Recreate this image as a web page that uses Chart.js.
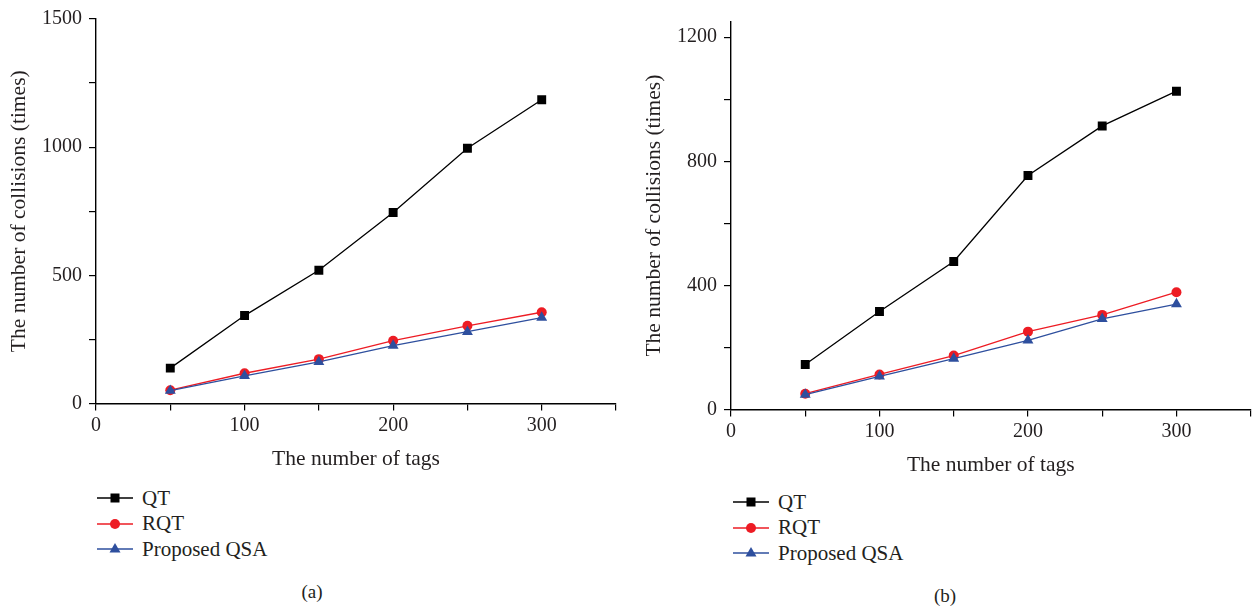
<!DOCTYPE html>
<html>
<head>
<meta charset="utf-8">
<script src="https://cdn.jsdelivr.net/npm/chart.js@4.4.1/dist/chart.umd.min.js"></script>
<style>
  body { margin: 0; background: #fff; width: 1257px; height: 610px; position: relative; overflow: hidden;
         font-family: "Liberation Serif", "DejaVu Serif", serif; color: #231f20; }
  canvas { position: absolute; }
  .legend { position: absolute; font-size: 21px; }
  .row { position: absolute; left: 0; height: 26px; display: flex; align-items: center; white-space: nowrap; }
  .row svg { margin-right: 9px; }
  .caption { position: absolute; font-size: 19px; transform: translateX(-50%); }
</style>
</head>
<body>
<canvas id="chartA" width="628" height="480" style="left:0;top:0"></canvas>
<canvas id="chartB" width="622" height="486" style="left:635px;top:0"></canvas>
<div class="legend" id="legendA" style="left:97px;top:485px"></div>
<div class="legend" id="legendB" style="left:733px;top:489px"></div>
<div class="caption" style="left:312px;top:581px">(a)</div>
<div class="caption" style="left:945px;top:585px">(b)</div>
<script>
  const tags = [50, 100, 150, 200, 250, 300];
  const seriesNames = ['QT', 'RQT', 'Proposed QSA'];
  const seriesColors = ['#000000', '#ed1c24', '#2e4f9e'];
  const seriesPoints = ['rect', 'circle', 'triangle'];

  const qtA = [138, 343, 520, 745, 996, 1185];
  const rqtA = [52, 118, 173, 245, 303, 356];
  const qsaA = [50, 108, 162, 226, 280, 335];

  const qtB = [145, 316, 477, 754, 914, 1026];
  const rqtB = [51, 113, 174, 251, 305, 378];
  const qsaB = [48, 107, 164, 223, 292, 340];

  // tick positions (labels only on the labelled subset)
  const xTicks = [0, 50, 100, 150, 200, 250, 300, 350];
  const xTickLabels = [0, 100, 200, 300];
  const yTicksA = [0, 250, 500, 750, 1000, 1250, 1500];
  const yTickLabelsA = [0, 500, 1000, 1500];
  const yTicksB = [0, 200, 400, 600, 800, 1000, 1200];
  const yTickLabelsB = [0, 400, 800, 1200];

  const xLabel = 'The number of tags';
  const yLabel = 'The number of collisions (times)';
  const FONT = '"Liberation Serif", "DejaVu Serif", serif';
  const radii = [6.3, 5, 6.3];

  function makeDatasets(lists) {
    return lists.map((vals, i) => ({
      label: seriesNames[i],
      data: tags.map((t, k) => ({ x: t, y: vals[k] })),
      borderColor: seriesColors[i],
      backgroundColor: seriesColors[i],
      borderWidth: 1.3,
      pointStyle: seriesPoints[i],
      pointRadius: radii[i],
      pointBorderWidth: 0,
      order: 2 - i
    }));
  }

  function axisCommon() {
    return {
      border: { display: true, color: '#000', width: 1.4 },
      grid: { drawOnChartArea: false, drawTicks: true, tickLength: 7, color: '#000', lineWidth: 1.2 }
    };
  }

  function makeChart(id, lists, yTop, yTicks, yTickLabels, padTop, padRight) {
    return new Chart(document.getElementById(id), {
      type: 'line',
      data: { datasets: makeDatasets(lists) },
      options: {
        responsive: false,
        animation: false,
        layout: { padding: { left: 0, right: padRight, top: padTop, bottom: 0 } },
        plugins: { legend: { display: false }, tooltip: { enabled: false } },
        scales: {
          x: {
            type: 'linear', min: 0, max: 350,
            ...axisCommon(),
            afterFit: s => { s.height = 76.5; },
            afterBuildTicks: s => { s.ticks = xTicks.map(v => ({ value: v })); },
            ticks: {
              padding: 3, color: '#231f20', maxRotation: 0, autoSkip: false,
              font: { family: FONT, size: 20 },
              callback: v => (xTickLabels.includes(v) ? String(v) : '')
            },
            title: { display: true, text: xLabel, color: '#231f20',
                     font: { family: FONT, size: 21.5 }, padding: { top: 0, bottom: 8 } }
          },
          y: {
            type: 'linear', min: 0, max: yTop,
            ...axisCommon(),
            afterFit: s => { s.width = 96; },
            afterBuildTicks: s => { s.ticks = yTicks.map(v => ({ value: v })); },
            ticks: {
              padding: 7, color: '#231f20', autoSkip: false,
              font: { family: FONT, size: 20 },
              callback: v => (yTickLabels.includes(v) ? String(v) : '')
            },
            title: { display: true, text: yLabel, color: '#231f20',
                     font: { family: FONT, size: 21.5 }, padding: { top: 6, bottom: 0 } }
          }
        }
      }
    });
  }

  function buildLegend(id) {
    const box = document.getElementById(id);
    seriesNames.forEach((name, i) => {
      const row = document.createElement('div');
      row.className = 'row';
      row.style.top = (i * 25.5) + 'px';
      let marker = '';
      if (seriesPoints[i] === 'rect') marker = '<rect x="13.5" y="8.5" width="9" height="9"/>';
      if (seriesPoints[i] === 'circle') marker = '<circle cx="18" cy="13" r="5"/>';
      if (seriesPoints[i] === 'triangle') marker = '<polygon points="18,7 23.5,16.5 12.5,16.5"/>';
      row.innerHTML = '<svg width="36" height="26" fill="' + seriesColors[i] + '">' +
        '<line x1="0" y1="13" x2="36" y2="13" stroke="' + seriesColors[i] + '" stroke-width="1.3"/>' +
        marker + '</svg><span>' + name + '</span>';
      box.appendChild(row);
    });
  }

  makeChart('chartA', [qtA, rqtA, qsaA], 1500, yTicksA, yTickLabelsA, 15, 12);
  makeChart('chartB', [qtB, rqtB, qsaB], 1250, yTicksB, yTickLabelsB, 21.7, 6);
  buildLegend('legendA');
  buildLegend('legendB');
</script>
</body>
</html>
